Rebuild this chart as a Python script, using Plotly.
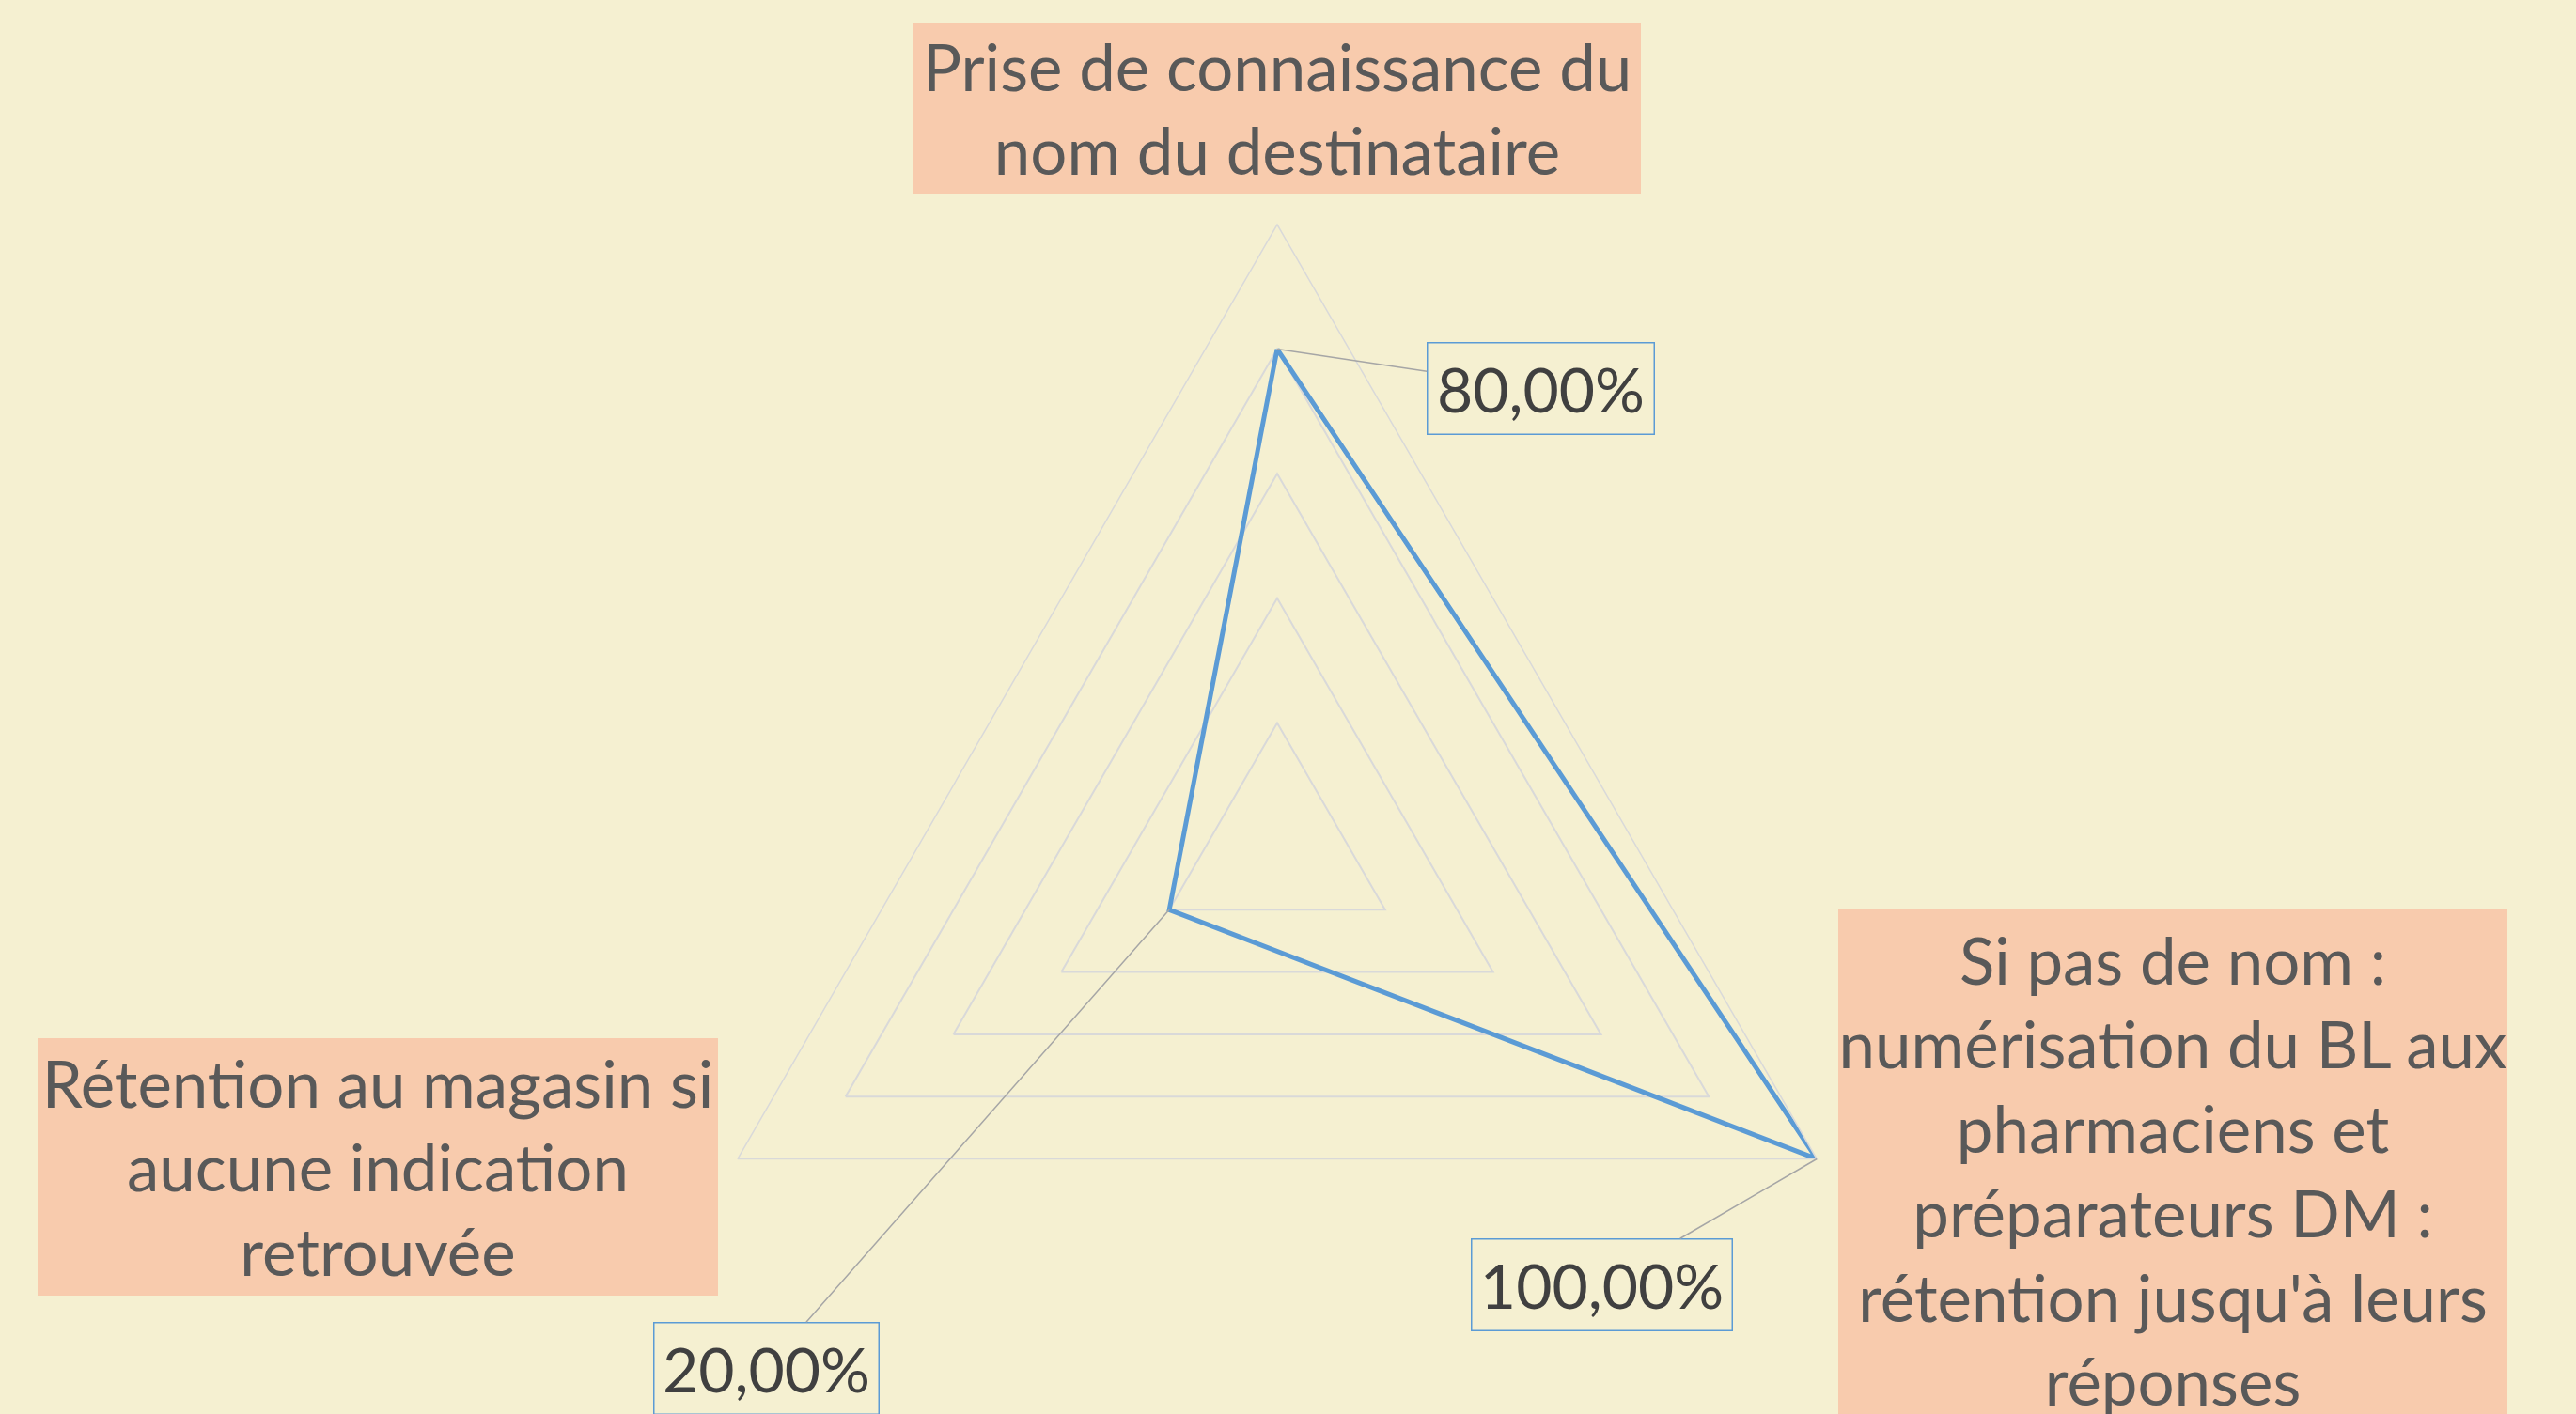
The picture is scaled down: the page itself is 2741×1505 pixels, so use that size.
import math
import plotly.graph_objects as go

# ---------------- data ----------------
categories = [
    "Prise de connaissance du nom du destinataire",
    "Si pas de nom : numérisation du BL aux pharmaciens et préparateurs DM : rétention jusqu'à leurs réponses",
    "Rétention au magasin si aucune indication retrouvée",
]
category_labels = [
    "Prise de connaissance du<br>nom du destinataire",
    "Si pas de nom :<br>numérisation du BL aux<br>pharmaciens et<br>préparateurs DM :<br>rétention jusqu'à leurs<br>réponses",
    "Rétention au magasin si<br>aucune indication<br>retrouvée",
]
values = [0.80, 1.00, 0.20]
value_labels = ["80,00%", "100,00%", "20,00%"]
radial_ticks = [0.2, 0.4, 0.6, 0.8, 1.0]

# ---------------- layout constants (pixels) ----------------
W, H = 2741, 1600
CX, CY, R = 1359, 902, 663          # centre and radius of the radar
BG = "#F5F0D1"
GRID = "#D9D9D9"
BLUE = "#5B9BD5"
FONT = "Lato"

# category label boxes: centre x, centre y, width, height
cat_boxes = [
    (1359, 115, 774, 182),
    (2312, 1245, 712, 555),
    (402, 1242, 724, 274),
]
# value label boxes: centre x, centre y, width
val_boxes = [
    (1639, 413, 236),
    (1704, 1367, 272),
    (815, 1456, 234),
]


def px(x):
    return x / W


def py(y):
    return 1 - y / H


fig = go.Figure()
fig.add_trace(go.Scatterpolar(
    r=values + values[:1],
    theta=categories + categories[:1],
    mode="lines",
    line=dict(color=BLUE, width=5),
    showlegend=False,
    hoverinfo="skip",
))

fig.update_layout(
    width=W, height=H,
    margin=dict(l=0, r=0, t=0, b=0),
    paper_bgcolor=BG,
    plot_bgcolor=BG,
    polar=dict(
        domain=dict(x=[(CX - R) / W, (CX + R) / W],
                    y=[py(CY + R), py(CY - R)]),
        bgcolor=BG,
        gridshape="linear",
        angularaxis=dict(
            rotation=90, direction="clockwise",
            showgrid=False, showline=True, linecolor=GRID, linewidth=1.5,
            showticklabels=False, ticks="",
        ),
        radialaxis=dict(
            range=[0, 1], tickvals=radial_ticks,
            showticklabels=False, showline=False, ticks="",
            gridcolor=GRID, gridwidth=1.5,
        ),
    ),
)

annotations = []
for lab, (bx, by, bw, bh) in zip(category_labels, cat_boxes):
    annotations.append(dict(
        text=lab, xref="paper", yref="paper", x=px(bx), y=py(by),
        xanchor="center", yanchor="middle", showarrow=False,
        width=bw, height=bh, bgcolor="#F8CBAD", borderpad=0, borderwidth=0,
        align="center", valign="middle",
        font=dict(family=FONT, size=69, color="#595959"),
    ))

n = len(categories)
for i, (v, lab) in enumerate(zip(values, value_labels)):
    ang = math.radians(90 - i * 360 / n)
    vx = CX + v * R * math.cos(ang)
    vy = CY - v * R * math.sin(ang)
    bx, by, bw = val_boxes[i]
    annotations.append(dict(
        text=lab, xref="paper", yref="paper", x=px(vx), y=py(vy),
        ax=bx - vx, ay=by - vy, axref="pixel", ayref="pixel",
        showarrow=True, arrowhead=0, arrowwidth=1.5, arrowcolor="#A6A6A6",
        standoff=0, startstandoff=0,
        width=bw, height=92, borderpad=2, borderwidth=1.5, bordercolor=BLUE,
        align="center", valign="middle",
        font=dict(family=FONT, size=66, color="#404040"),
    ))

fig.update_layout(annotations=annotations)
fig.write_html(
    "out.html",
    config={"displayModeBar": False},
    post_script="document.body.style.margin='0';"
                "document.documentElement.style.overflow='hidden';"
                "document.body.style.overflow='hidden';",
)
